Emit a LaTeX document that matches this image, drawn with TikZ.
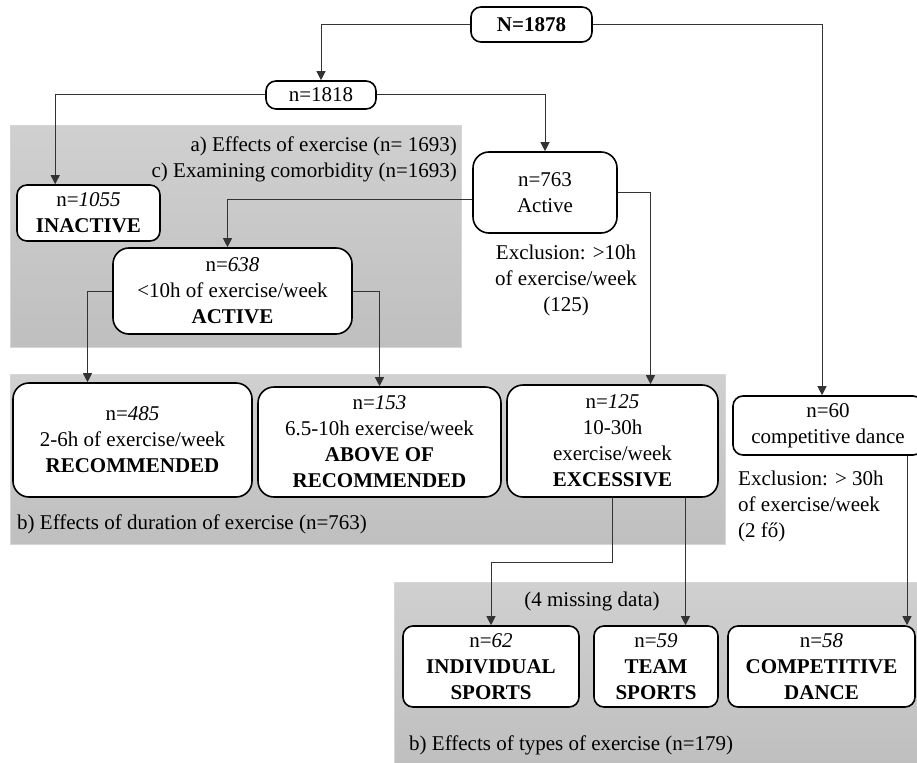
\documentclass[tikz,border=0pt]{standalone}
\usepackage{fontspec}
\setmainfont{Liberation Serif}
\usetikzlibrary{arrows.meta}
\definecolor{bandtop}{HTML}{D0D0D0}
\definecolor{bandbot}{HTML}{BFBFBF}
\definecolor{bandline}{HTML}{D6D6D6}
\begin{document}
\begin{tikzpicture}[x=1pt,y=-1pt,font=\fontsize{21}{26}\selectfont]
    \tikzstyle{box}=[draw=black,line width=1.6pt,fill=white,rounded corners=10pt,align=center,inner sep=2pt]
    \tikzstyle{bigbox}=[box,rounded corners=16pt]
    \tikzstyle{link}=[line width=1pt,draw=black!80,-{Triangle[width=9pt,length=9pt]}]
    \tikzstyle{band}=[top color=bandtop,bottom color=bandbot,draw=bandline,line width=1pt]
    \tikzstyle{note}=[inner sep=0pt,align=center]
    \useasboundingbox (0,0) rectangle (917,762);
    \clip (0,0) rectangle (917,762);
    % shaded study groups
    \draw[band] (10,126) rectangle (461,347);
    \draw[band] (10,374) rectangle (725,544);
    \draw[band] (394,582) rectangle (920,765);
    \node[note,anchor=east,align=right] (studyac) at (457,159.5) {a) Effects of exercise (n= 1693)\\c) Examining comorbidity (n=1693)};
    \node[note,anchor=west] (studyb) at (17,524) {b) Effects of duration of exercise (n=763)};
    \node[note] (missing) at (592,601) {(4 missing data)};
    \node[note,anchor=west] (studytypes) at (409,745) {b) Effects of types of exercise (n=179)};
    \node[note] (excl10) at (566,280.5) {Exclusion: >10h\\of exercise/week\\(125)};
    \node[note,anchor=west,align=left] (excl30) at (738,506.5) {Exclusion: > 30h\\of exercise/week\\(2 fő)};
    % boxes
    \node[box,minimum width=121pt,minimum height=35pt] (total) at (531.5,24.5) {\textbf{N=1878}};
    \node[box,minimum width=110pt,minimum height=28pt] (n1818) at (321,95) {n=1818};
    \node[box,minimum width=143pt,minimum height=56pt] (inactive) at (88.5,213) {n=\textit{1055}\\\textbf{INACTIVE}};
    \node[bigbox,minimum width=144pt,minimum height=81pt] (active) at (545,192.5) {n=763\\Active};
    \node[bigbox,minimum width=239pt,minimum height=86pt] (a638) at (232.5,291) {n=\textit{638}\\<10h of exercise/week\\\textbf{ACTIVE}};
    \node[bigbox,minimum width=239pt,minimum height=114pt] (rec485) at (132.5,440) {n=\textit{485}\\2-6h of exercise/week\\\textbf{RECOMMENDED}};
    \node[bigbox,minimum width=243pt,minimum height=110pt] (above153) at (379.5,442) {n=\textit{153}\\6.5-10h exercise/week\\\textbf{ABOVE OF}\\\textbf{RECOMMENDED}};
    \node[bigbox,minimum width=211pt,minimum height=112pt] (exc125) at (612.5,441) {n=\textit{125}\\10-30h\\exercise/week\\\textbf{EXCESSIVE}};
    \node[box,minimum width=190pt,minimum height=59pt] (dance60) at (828,425.5) {n=60\\competitive dance};
    \node[box,minimum width=176pt,minimum height=81pt] (ind62) at (491,666.5) {n=\textit{62}\\\textbf{INDIVIDUAL}\\\textbf{SPORTS}};
    \node[box,minimum width=124pt,minimum height=81pt] (team59) at (656,666.5) {n=\textit{59}\\\textbf{TEAM}\\\textbf{SPORTS}};
    \node[box,minimum width=187pt,minimum height=81pt] (dance58) at (821.5,666.5) {n=\textit{58}\\\textbf{COMPETITIVE}\\\textbf{DANCE}};
    % connectors
    \draw[link] (total.west) -| (n1818.north);
    \draw[link] (total.east) -| ([xshift=-6pt]dance60.north);
    \draw[link] (n1818.west) -| ([xshift=39pt]inactive.north west);
    \draw[link] (n1818.east) -| (active.north);
    \draw[link] ([yshift=-7pt]active.west) -| ([xshift=-5pt]a638.north);
    \draw[link] (active.east) -| ([xshift=38pt]exc125.north);
    \draw[link] (a638.west) -| ([xshift=-45pt]rec485.north);
    \draw[link] (a638.east) -| (above153.north);
    \draw[link] (exc125.south) -- ++(0,65) -| (ind62.north);
    \draw[link] ([xshift=73pt]exc125.south) -- ([xshift=73pt]exc125.south |- team59.north);
    \draw[link] ([xshift=79pt]dance60.south) -- ([xshift=79pt]dance60.south |- dance58.north);
\end{tikzpicture}
\end{document}
